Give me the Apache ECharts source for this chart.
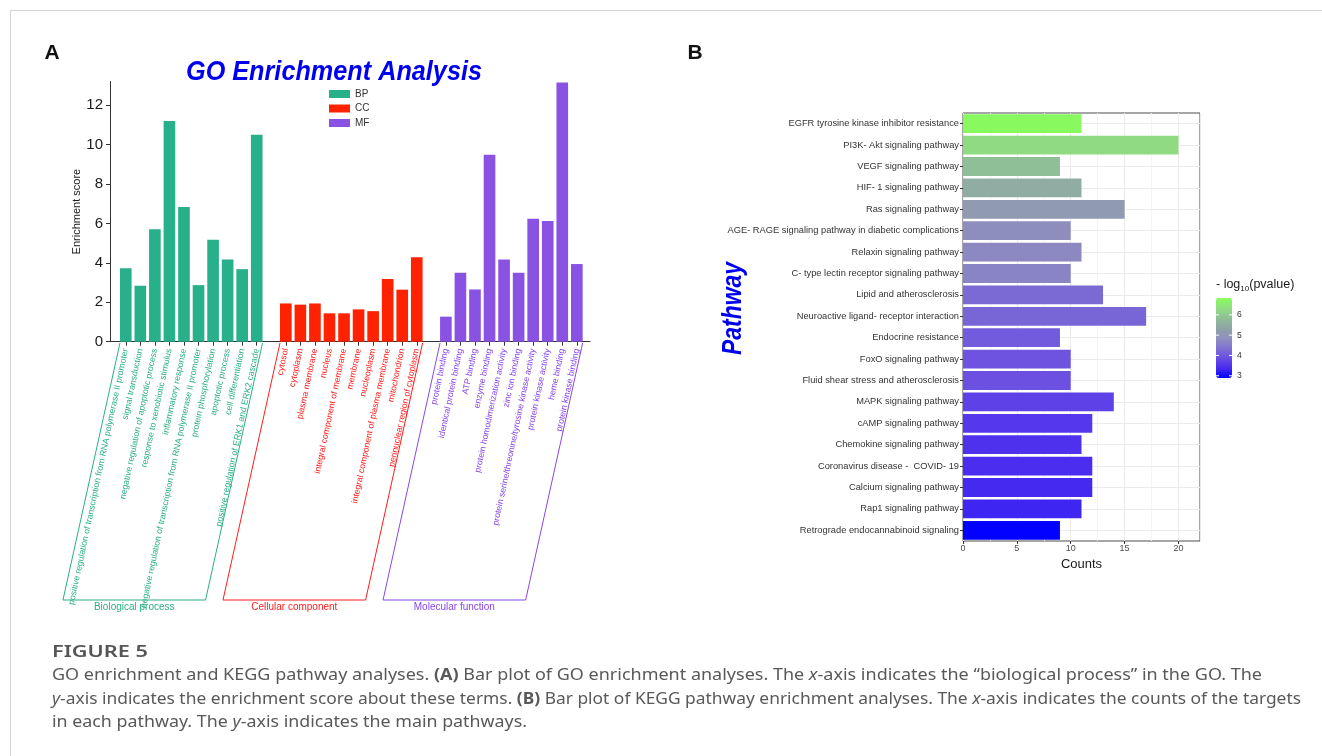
<!DOCTYPE html>
<html>
<head>
<meta charset="utf-8">
<title>Figure 5</title>
<script src="https://cdn.jsdelivr.net/npm/echarts@6/dist/echarts.min.js"></script>
<style>
  html, body { margin: 0; padding: 0; background: #fff; }
  #main { width: 1322px; height: 756px; }
</style>
</head>
<body>
<div id="main"></div>
<script>
// panel A - GO terms and enrichment scores
const bpTerms = [
  'positive regulation of transcription from RNA polymerase II promoter',
  'signal transduction',
  'negative regulation of apoptotic process',
  'response to xenobiotic stimulus',
  'inflammatory response',
  'negative regulation of transcription from RNA polymerase II promoter',
  'protein phosphorylation',
  'apoptotic process',
  'cell differentiation',
  'positive regulation of ERK1 and ERK2 cascade'
];
const bpScores = [3.72, 2.84, 5.71, 11.19, 6.83, 2.87, 5.17, 4.17, 3.68, 10.5];

const ccTerms = [
  'cytosol',
  'cytoplasm',
  'plasma membrane',
  'nucleus',
  'integral component of membrane',
  'membrane',
  'nucleoplasm',
  'integral component of plasma membrane',
  'mitochondrion',
  'perinuclear region of cytoplasm'
];
const ccScores = [1.94, 1.88, 1.94, 1.44, 1.44, 1.64, 1.55, 3.18, 2.64, 4.28];

const mfTerms = [
  'protein binding',
  'identical protein binding',
  'ATP binding',
  'enzyme binding',
  'protein homodimerization activity',
  'zinc ion binding',
  'protein serine/threonine/tyrosine kinase activity',
  'protein kinase activity',
  'heme binding',
  'protein kinase binding'
];
const mfScores = [1.27, 3.5, 2.65, 9.48, 4.17, 3.5, 6.24, 6.12, 13.15, 3.94];

const groupNames = ['Biological process', 'Cellular component', 'Molecular function'];

// panel B - KEGG pathways
const keggPathways = [
  'EGFR tyrosine kinase inhibitor resistance',
  'PI3K- Akt signaling pathway',
  'VEGF signaling pathway',
  'HIF- 1 signaling pathway',
  'Ras signaling pathway',
  'AGE- RAGE signaling pathway in diabetic complications',
  'Relaxin signaling pathway',
  'C- type lectin receptor signaling pathway',
  'Lipid and atherosclerosis',
  'Neuroactive ligand- receptor interaction',
  'Endocrine resistance',
  'FoxO signaling pathway',
  'Fluid shear stress and atherosclerosis',
  'MAPK signaling pathway',
  'cAMP signaling pathway',
  'Chemokine signaling pathway',
  'Coronavirus disease -  COVID- 19',
  'Calcium signaling pathway',
  'Rap1 signaling pathway',
  'Retrograde endocannabinoid signaling'
];
const keggCounts = [11, 20, 9, 11, 15, 10, 11, 10, 13, 17, 9, 10, 10, 14, 12, 11, 12, 12, 11, 9];
const keggLogP = [6.75, 6.3, 5.85, 5.5, 5.1, 4.8, 4.7, 4.65, 4.25, 4.2, 4.05, 3.95, 3.9, 3.7, 3.55, 3.45, 3.4, 3.35, 3.3, 2.9];
const pvalTicks = [3, 4, 5, 6];

const FONT = '"Liberation Sans", Arial, sans-serif';
const CAP_FONT = '"Noto Sans", sans-serif';
const barColors = { BP: '#27b08a', CC: '#ff2200', MF: '#8a52e3' };
const textColors = { BP: '#2aae87', CC: '#ff1a1a', MF: '#8647ec' };

// one empty slot between the groups
const goCats = [...bpTerms, ' ', ...ccTerms, '  ', ...mfTerms];
const goGroupOf = {};
bpTerms.forEach(t => goGroupOf[t] = 'BP');
ccTerms.forEach(t => goGroupOf[t] = 'CC');
mfTerms.forEach(t => goGroupOf[t] = 'MF');

function padSeries(terms, values) {
  return goCats.map(c => {
    const i = terms.indexOf(c);
    return i >= 0 ? values[i] : null;
  });
}

const keggData = keggPathways.map((p, i) => [keggCounts[i], p, keggLogP[i]]);

const chart = echarts.init(document.getElementById('main'));

const option = {
  animation: false,
  textStyle: { fontFamily: FONT },
  legend: {
    data: ['BP', 'CC', 'MF'],
    orient: 'vertical',
    left: 329,
    top: 89,
    padding: 0,
    itemWidth: 21,
    itemHeight: 8,
    itemGap: 4.5,
    icon: 'rect',
    textStyle: { fontSize: 10, color: '#333', fontFamily: FONT }
  },
  grid: [
    { left: 110, top: 81.5, width: 480, height: 260.2 },
    { left: 118.5, top: 81.5, width: 465.6, height: 260.2 },
    { left: 963, top: 113, width: 237, height: 428, show: true, borderColor: '#4d4d4d', borderWidth: 1, backgroundColor: '#fff' }
  ],
  xAxis: [
    {
      gridIndex: 0, type: 'value', min: 0, max: 1,
      axisLine: { show: true, lineStyle: { color: '#333', width: 1 } },
      axisTick: { show: false }, axisLabel: { show: false }, splitLine: { show: false }
    },
    {
      gridIndex: 1, type: 'category', data: goCats,
      axisLine: { show: false },
      axisTick: {
        show: true, alignWithLabel: true, length: 4,
        interval: (i, v) => v.trim() !== '',
        lineStyle: { color: '#333' }
      },
      axisLabel: {
        interval: 0, rotate: 78, fontSize: 8.7, margin: 7, fontFamily: FONT,
        color: v => textColors[goGroupOf[v]] || '#333'
      }
    },
    {
      gridIndex: 2, type: 'value', min: 0, max: 22, interval: 5,
      name: 'Counts', nameLocation: 'middle', nameGap: 14,
      nameTextStyle: { fontSize: 13, color: '#1a1a1a', fontFamily: FONT },
      axisLine: { show: false },
      axisTick: { show: true, length: 3, lineStyle: { color: '#333' } },
      axisLabel: { fontSize: 9, color: '#4d4d4d', margin: 3, showMaxLabel: false },
      splitLine: { show: true, lineStyle: { color: '#ebebeb', width: 1 } },
      minorTick: { show: false, splitNumber: 2 },
      minorSplitLine: { show: true, lineStyle: { color: '#f4f4f4', width: 1 } }
    }
  ],
  yAxis: [
    {
      gridIndex: 0, type: 'value', min: 0, max: 13.2, interval: 2,
      name: 'Enrichment score', nameLocation: 'middle', nameGap: 28, nameRotate: 90,
      nameTextStyle: { fontSize: 11, color: '#1a1a1a', fontFamily: FONT },
      axisLine: { show: true, lineStyle: { color: '#333' } },
      axisTick: { show: true, length: 4, lineStyle: { color: '#333' } },
      axisLabel: { fontSize: 15, color: '#1a1a1a', margin: 7, showMaxLabel: false },
      splitLine: { show: false }
    },
    { gridIndex: 1, type: 'value', min: 0, max: 13.2, show: false },
    {
      gridIndex: 2, type: 'category', data: keggPathways, inverse: true,
      axisLine: { show: false },
      axisTick: { show: true, alignWithLabel: true, length: 3, lineStyle: { color: '#333' } },
      axisLabel: { interval: 0, fontSize: 9.3, color: '#333', margin: 4 },
      splitLine: { show: false }
    }
  ],
  visualMap: {
    type: 'continuous',
    seriesIndex: 4,
    dimension: 2,
    min: 2.89,
    max: 6.83,
    left: 1216,
    top: 298,
    itemWidth: 16,
    itemHeight: 80,
    padding: 0,
    calculable: false,
    text: null,
    inRange: {
      color: ['#0000ff', '#4a2cef', '#6a4ee2', '#8072d0', '#9092bc', '#8fa5a6', '#8fbf97', '#90dd80', '#88ff5a']
    }
  },
  series: [
    {
      name: 'BP', type: 'bar', xAxisIndex: 1, yAxisIndex: 1, stack: 'go', barWidth: '80%',
      data: padSeries(bpTerms, bpScores), itemStyle: { color: barColors.BP }
    },
    {
      name: 'CC', type: 'bar', xAxisIndex: 1, yAxisIndex: 1, stack: 'go', barWidth: '80%',
      data: padSeries(ccTerms, ccScores), itemStyle: { color: barColors.CC }
    },
    {
      name: 'MF', type: 'bar', xAxisIndex: 1, yAxisIndex: 1, stack: 'go', barWidth: '80%',
      data: padSeries(mfTerms, mfScores), itemStyle: { color: barColors.MF }
    },
    {
      // horizontal grid lines at category centres (ggplot style), kept under the bars
      name: 'rows', type: 'line', xAxisIndex: 2, yAxisIndex: 2, data: [], silent: true, z: 1,
      markLine: {
        z: 1,
        silent: true, symbol: 'none', label: { show: false },
        lineStyle: { color: '#ebebeb', type: 'solid', width: 1 },
        data: keggPathways.map(p => ({ yAxis: p }))
      }
    },
    {
      name: 'KEGG', type: 'bar', xAxisIndex: 2, yAxisIndex: 2, z: 6,
      barWidth: '88%',
      encode: { x: 0, y: 1 },
      data: keggData
    }
  ]
};

chart.setOption(option);

// ---- decorations: titles, brackets, colour-bar ticks, caption ----
const ctx = document.createElement('canvas').getContext('2d');
function measure(font, text) {
  ctx.font = font;
  return ctx.measureText(text).width;
}

const graphics = [];
const frame = { stroke: '#d6d6d6', lineWidth: 1 };
graphics.push({ type: 'line', shape: { x1: 10, y1: 10.5, x2: 1322, y2: 10.5 }, style: frame, silent: true });
graphics.push({ type: 'line', shape: { x1: 10.5, y1: 10, x2: 10.5, y2: 756 }, style: frame, silent: true });

graphics.push({ type: 'text', x: 52, y: 53, style: { text: 'A', font: 'bold 21px ' + FONT, fill: '#111', align: 'center', verticalAlign: 'middle' } });
graphics.push({ type: 'text', x: 695, y: 53, style: { text: 'B', font: 'bold 21px ' + FONT, fill: '#111', align: 'center', verticalAlign: 'middle' } });

const titleFont = 'italic bold 28px "Liberation Sans"';
const titleText = 'GO Enrichment Analysis';
graphics.push({
  type: 'text', x: 186, y: 72, scaleX: 296 / measure(titleFont, titleText),
  style: { text: titleText, font: titleFont, fill: '#0000f0', align: 'left', verticalAlign: 'middle' }
});

const pwFont = 'italic bold 28px "Liberation Sans"';
graphics.push({
  type: 'text', x: 733, y: 308.5, rotation: Math.PI / 2, scaleX: 93 / measure(pwFont, 'Pathway'),
  style: { text: 'Pathway', font: pwFont, fill: '#0000f0', align: 'center', verticalAlign: 'middle' }
});

// group brackets under the GO labels
const groups = [[bpTerms, 'BP'], [ccTerms, 'CC'], [mfTerms, 'MF']];
const band = 465.6 / goCats.length;
const yTop = 343, yBot = 600, slant = 57;
groups.forEach(([terms, key], gi) => {
  const xl = chart.convertToPixel({ xAxisIndex: 1 }, terms[0]) - band * 0.4;
  const xr = chart.convertToPixel({ xAxisIndex: 1 }, terms[terms.length - 1]) + band * 0.4;
  graphics.push({
    type: 'polyline', silent: true,
    shape: { points: [[xl, yTop], [xl - slant, yBot], [xr - slant, yBot], [xr, yTop]] },
    style: { stroke: textColors[key], lineWidth: 1, fill: null }
  });
  graphics.push({
    type: 'text', x: (xl + xr) / 2 - slant, y: 607,
    style: { text: groupNames[gi], font: '10px ' + FONT, fill: textColors[key], align: 'center', verticalAlign: 'middle' }
  });
});

// colour bar title and ticks
graphics.push({
  type: 'text', x: 1216, y: 285,
  style: {
    text: '{a|- log}{s|10}{a|(pvalue)}',
    rich: {
      a: { fontSize: 12.5, fontFamily: FONT, fill: '#1a1a1a' },
      s: { fontSize: 8, fontFamily: FONT, fill: '#1a1a1a', padding: [7, 0, 0, 0] }
    },
    align: 'left', verticalAlign: 'middle'
  }
});
const cbTop = 298, cbH = 80, cbMin = 2.89, cbMax = 6.83;
pvalTicks.forEach(v => {
  const y = cbTop + cbH * (cbMax - v) / (cbMax - cbMin);
  graphics.push({
    type: 'text', x: 1237, y: y,
    style: { text: String(v), font: '8.5px ' + FONT, fill: '#333', align: 'left', verticalAlign: 'middle' }
  });
  graphics.push({ type: 'line', silent: true, z: 10, shape: { x1: 1216, y1: y, x2: 1219, y2: y }, style: { stroke: '#fff', lineWidth: 1 } });
  graphics.push({ type: 'line', silent: true, z: 10, shape: { x1: 1229, y1: y, x2: 1232, y2: y }, style: { stroke: '#fff', lineWidth: 1 } });
});

// caption
const capFonts = {
  n: '16px ' + CAP_FONT,
  b: 'bold 16px ' + CAP_FONT,
  i: 'italic 16px ' + CAP_FONT
};
const capRich = {
  n: { fontSize: 16, fontFamily: CAP_FONT, fill: '#595959' },
  b: { fontSize: 16, fontFamily: CAP_FONT, fontWeight: 'bold', fill: '#595959' },
  i: { fontSize: 16, fontFamily: CAP_FONT, fontStyle: 'italic', fill: '#595959' }
};
const capLines = [
  { y: 675, w: 1210, parts: [['n', 'GO enrichment and KEGG pathway analyses. '], ['b', '(A)'], ['n', ' Bar plot of GO enrichment analyses. The '], ['i', 'x'], ['n', '-axis indicates the \u201cbiological process\u201d in the GO. The']] },
  { y: 699, w: 1249, parts: [['i', 'y'], ['n', '-axis indicates the enrichment score about these terms. '], ['b', '(B)'], ['n', ' Bar plot of KEGG pathway enrichment analyses. The '], ['i', 'x'], ['n', '-axis indicates the counts of the targets']] },
  { y: 722, w: 475, parts: [['n', 'in each pathway. The '], ['i', 'y'], ['n', '-axis indicates the main pathways.']] }
];
capLines.forEach(line => {
  const w = line.parts.reduce((s, [k, t]) => s + measure(capFonts[k], t), 0);
  graphics.push({
    type: 'text', x: 52, y: line.y, scaleX: line.w / w,
    style: {
      text: line.parts.map(([k, t]) => '{' + k + '|' + t + '}').join(''),
      rich: capRich, align: 'left', verticalAlign: 'middle'
    }
  });
});
const figFont = '600 16px ' + CAP_FONT;
graphics.push({
  type: 'text', x: 52, y: 652, scaleX: 96 / measure(figFont, 'FIGURE 5'),
  style: { text: 'FIGURE 5', font: figFont, fill: '#555', align: 'left', verticalAlign: 'middle' }
});

chart.setOption({ graphic: graphics });
</script>
</body>
</html>
